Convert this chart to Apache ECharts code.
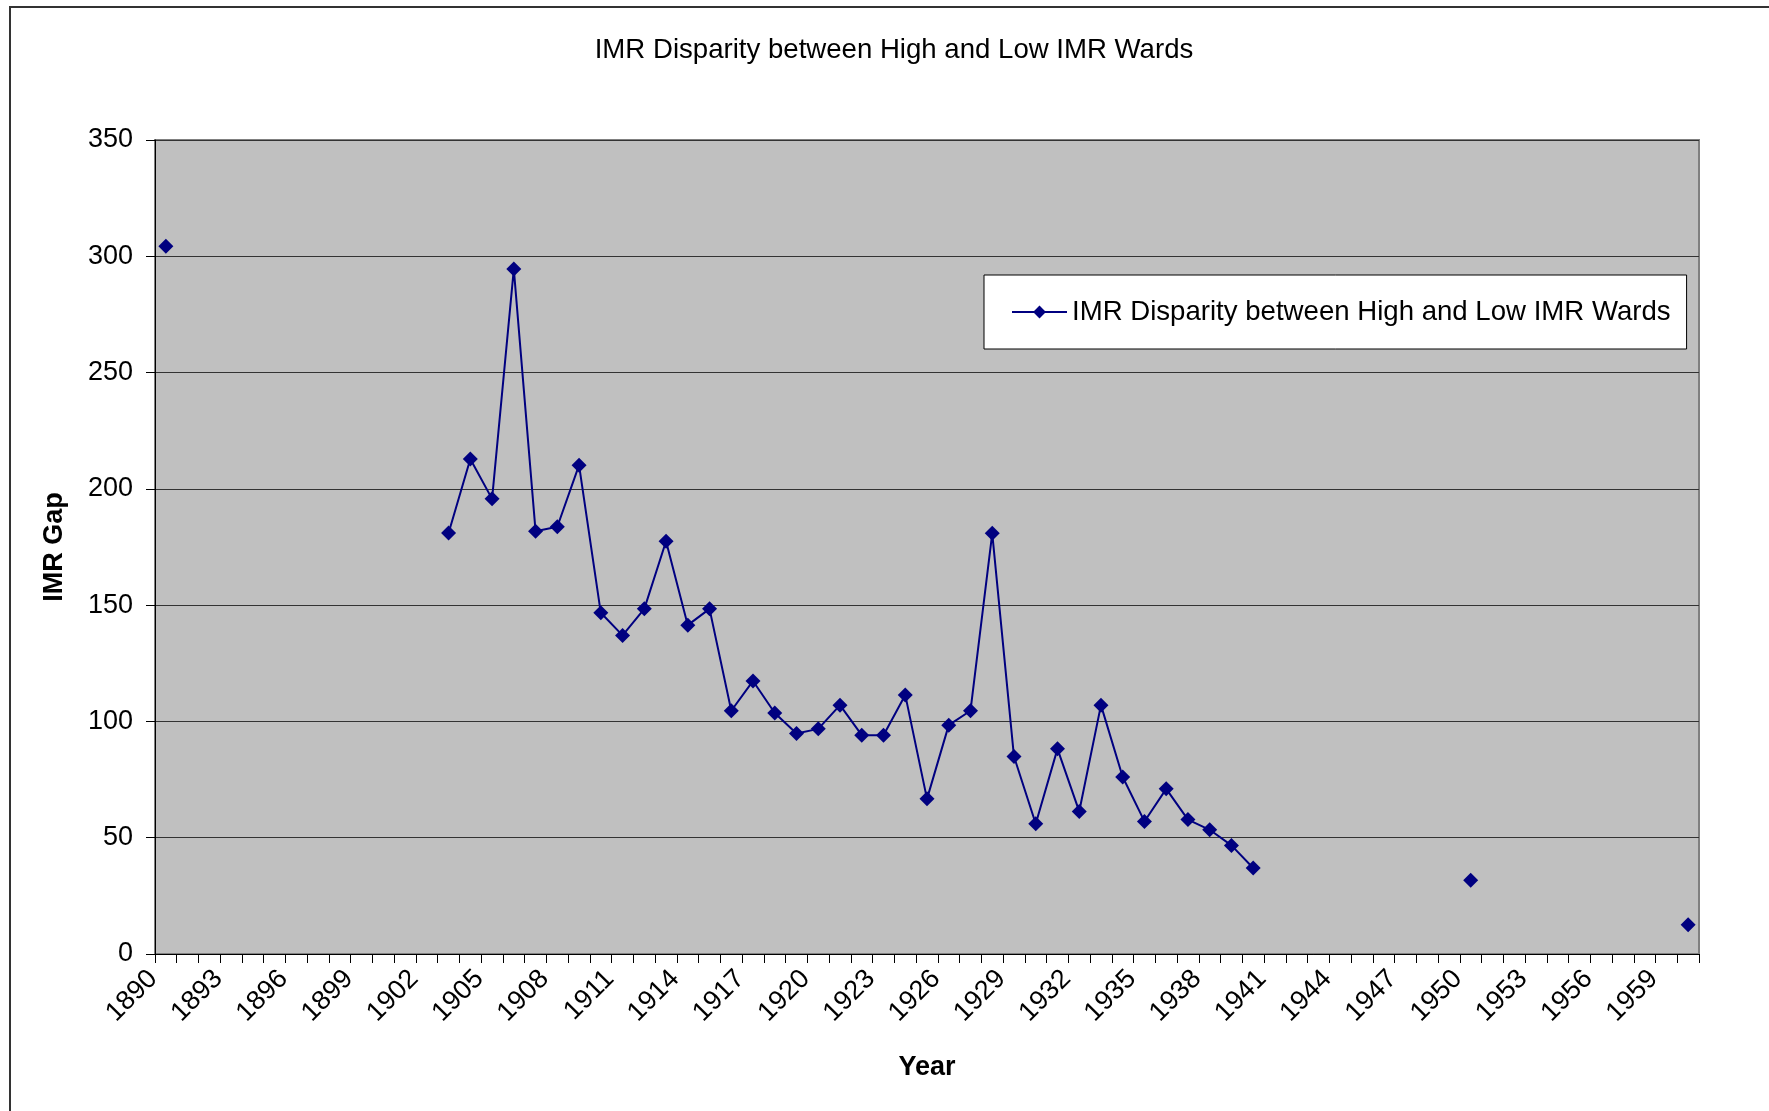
<!DOCTYPE html>
<html>
<head>
<meta charset="utf-8">
<title>IMR Disparity between High and Low IMR Wards</title>
<script src="https://cdn.jsdelivr.net/npm/echarts@6/dist/echarts.min.js"></script>
<style>
  html, body { margin: 0; padding: 0; background: #fff; }
  #main { width: 1769px; height: 1111px; }
</style>
</head>
<body>
<div id="main"></div>
<script>
// category axis: every year 1890 - 1960
var firstYear = 1890, lastYear = 1960;
var years = [];
for (var y = firstYear; y <= lastYear; y++) years.push(String(y));

var obsYears = [1890,
  1903, 1904, 1905, 1906, 1907, 1908, 1909, 1910, 1911, 1912,
  1913, 1914, 1915, 1916, 1917, 1918, 1919, 1920, 1921, 1922,
  1923, 1924, 1925, 1926, 1927, 1928, 1929, 1930, 1931, 1932,
  1933, 1934, 1935, 1936, 1937, 1938, 1939, 1940,
  1950, 1960];
var imrGap = [304.3,
  181.0, 212.8, 195.7, 294.5, 181.8, 183.7, 210.2, 146.7, 137.0, 148.4,
  177.5, 141.4, 148.4, 104.6, 117.4, 103.6, 94.8, 96.8, 107.0, 94.1,
  94.1, 111.4, 66.7, 98.4, 104.6, 180.9, 84.9, 56.0, 88.2, 61.3,
  107.0, 76.1, 57.0, 71.0, 57.8, 53.4, 46.7, 37.0,
  31.7, 12.6];

var seriesName = 'IMR Disparity between High and Low IMR Wards';
var font = "'Liberation Sans', Arial, sans-serif";

// one slot per year, null where there is no value (breaks the line)
var seriesData = [];
for (var i = 0; i < years.length; i++) seriesData.push(null);
for (var j = 0; j < obsYears.length; j++) {
  seriesData[obsYears[j] - firstYear] = imrGap[j];
}

var myChart = echarts.init(document.getElementById('main'));
var opt = {
  animation: false,
  backgroundColor: '#fff',
  title: {
    text: 'IMR Disparity between High and Low IMR Wards',
    left: 894,
    top: 36,
    padding: 0,
    textAlign: 'center',
    textStyle: { fontFamily: font, fontWeight: 'normal', fontSize: 27.6, color: '#000' }
  },
  graphic: [
    {
      // outer chart frame (right and bottom edges are cut off in the original)
      type: 'polyline',
      shape: { points: [[10, 1120], [10, 7], [1780, 7]] },
      style: { stroke: '#333', lineWidth: 2, fill: null },
      silent: true
    }
  ],
  legend: {
    data: [seriesName],
    left: 984,
    top: 275,
    padding: [20, 16, 20, 27],
    backgroundColor: '#fff',
    borderColor: '#000',
    borderWidth: 1,
    borderRadius: 0,
    itemWidth: 55,
    itemHeight: 16,
    textStyle: { fontFamily: font, fontSize: 27.6, lineHeight: 34, color: '#000' }
  },
  grid: {
    left: 155,
    right: 70,
    top: 140,
    bottom: 157,
    show: true,
    backgroundColor: '#c0c0c0',
    borderColor: '#808080',
    borderWidth: 2
  },
  xAxis: {
    type: 'category',
    data: years,
    boundaryGap: true,
    name: 'Year',
    nameLocation: 'middle',
    nameGap: 100,
    nameTextStyle: { fontFamily: font, fontWeight: 'bold', fontSize: 27, color: '#000' },
    axisLine: { show: true, lineStyle: { color: '#000', width: 1 } },
    axisTick: { show: true, interval: 0, length: 9, lineStyle: { color: '#000' } },
    axisLabel: {
      interval: 2,
      rotate: 45,
      margin: 8,
      padding: [0, 18, 0, 0],
      fontFamily: font,
      fontSize: 27,
      color: '#000'
    },
    splitLine: { show: false }
  },
  yAxis: {
    type: 'value',
    min: 0,
    max: 350,
    interval: 50,
    name: 'IMR Gap',
    nameLocation: 'middle',
    nameGap: 87,
    nameRotate: 90,
    nameTextStyle: { fontFamily: font, fontWeight: 'bold', fontSize: 27, color: '#000' },
    axisLine: { show: true, lineStyle: { color: '#000', width: 1 } },
    axisTick: { show: true, length: 9, lineStyle: { color: '#000' } },
    axisLabel: { margin: 22, fontFamily: font, fontSize: 27, color: '#000' },
    splitLine: { show: true, lineStyle: { color: '#333', width: 1 } }
  },
  series: [
    {
      name: seriesName,
      type: 'line',
      data: seriesData,
      connectNulls: false,
      showAllSymbol: true,
      symbol: 'diamond',
      symbolSize: 15,
      lineStyle: { color: '#000080', width: 2 },
      itemStyle: { color: '#000080' },
      emphasis: { disabled: true }
    }
  ]
};
myChart.setOption(opt);
</script>
</body>
</html>
